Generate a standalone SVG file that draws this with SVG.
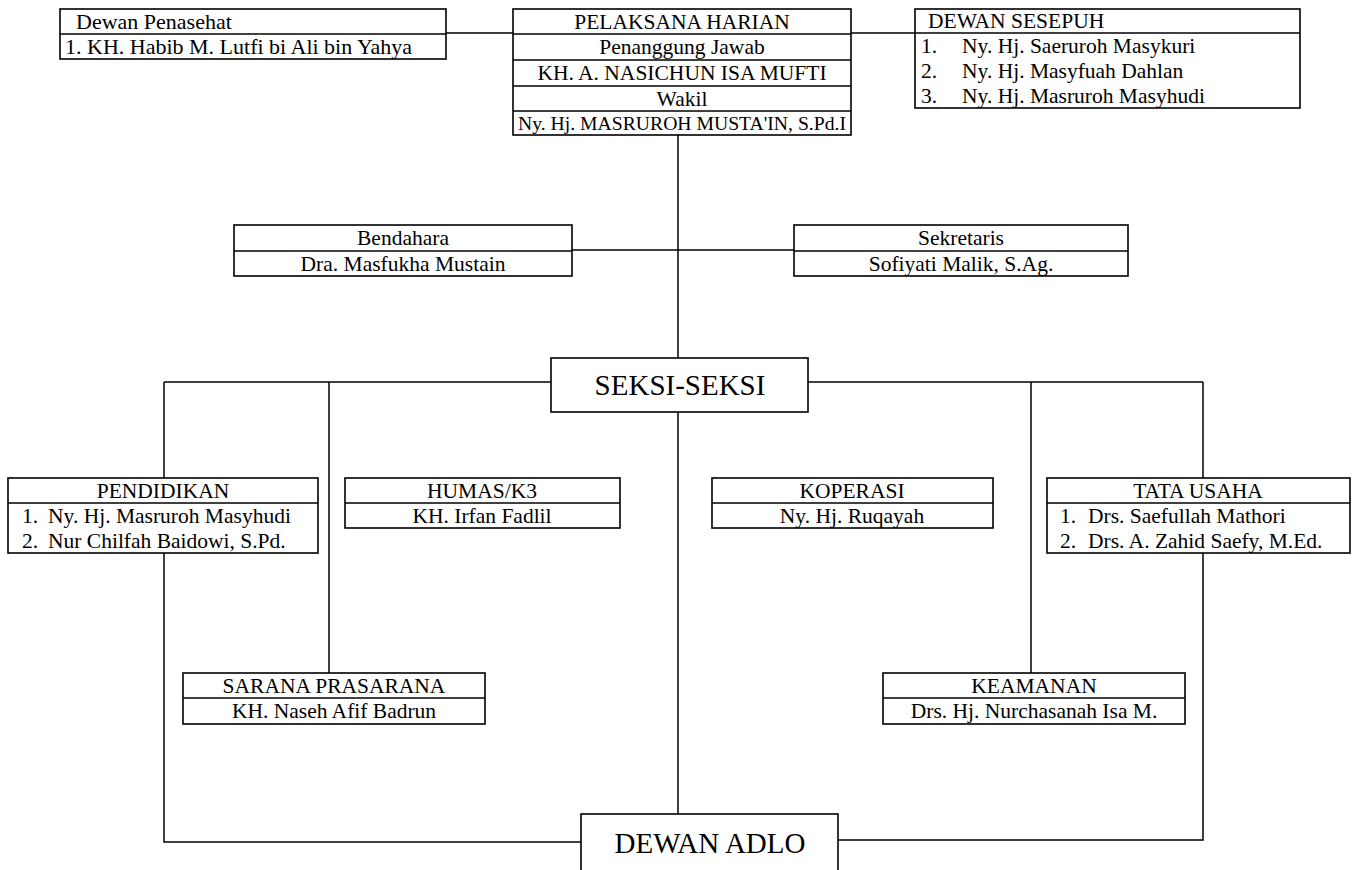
<svg xmlns="http://www.w3.org/2000/svg" width="1360" height="870" viewBox="0 0 1360 870">
<style>
  .box{fill:#fff;stroke:#000;stroke-width:1.6}
  .div{stroke:#000;stroke-width:1.6}
  .ln{stroke:#000;stroke-width:1.5;fill:none}
  text{font-family:"Liberation Serif","Times New Roman",serif;font-size:21.5px;fill:#000}
  .c{text-anchor:middle}
  .big{font-size:29px}
</style>
<rect width="1360" height="870" fill="#fff"/>
<g id="connectors">
  <line class="ln" x1="446" y1="33" x2="513" y2="33"/>
  <line class="ln" x1="851" y1="33" x2="915" y2="33"/>
  <line class="ln" x1="678" y1="135" x2="678" y2="358"/>
  <line class="ln" x1="572" y1="250" x2="794" y2="250"/>
  <line class="ln" x1="164" y1="382" x2="551" y2="382"/>
  <line class="ln" x1="808" y1="382" x2="1203" y2="382"/>
  <line class="ln" x1="164" y1="382" x2="164" y2="478"/>
  <line class="ln" x1="329" y1="382" x2="329" y2="673"/>
  <line class="ln" x1="1031" y1="382" x2="1031" y2="673"/>
  <line class="ln" x1="1203" y1="382" x2="1203" y2="478"/>
  <line class="ln" x1="678" y1="412" x2="678" y2="814"/>
  <polyline class="ln" points="164,553 164,842 581,842"/>
  <polyline class="ln" points="1203,553 1203,840 838,840"/>
</g>
<g id="dewan-penasehat">
  <rect class="box" x="60" y="9" width="386" height="50"/>
  <line class="div" x1="60" y1="34" x2="446" y2="34"/>
  <text x="76" y="29" style="font-size:22px">Dewan Penasehat</text>
  <text x="65" y="54" style="font-size:22px">1. KH. Habib M. Lutfi bi Ali bin Yahya</text>
</g>
<g id="pelaksana-harian">
  <rect class="box" x="513" y="9" width="338" height="126"/>
  <line class="div" x1="513" y1="34" x2="851" y2="34"/>
  <line class="div" x1="513" y1="60" x2="851" y2="60"/>
  <line class="div" x1="513" y1="86" x2="851" y2="86"/>
  <line class="div" x1="513" y1="111" x2="851" y2="111"/>
  <text class="c" x="682" y="29">PELAKSANA HARIAN</text>
  <text class="c" x="682" y="54">Penanggung Jawab</text>
  <text class="c" x="682" y="80">KH. A. NASICHUN ISA MUFTI</text>
  <text class="c" x="682" y="106">Wakil</text>
  <text x="518" y="130" style="font-size:18px" textLength="328" lengthAdjust="spacingAndGlyphs">Ny. Hj.  MASRUROH MUSTA'IN, S.Pd.I</text>
</g>
<g id="dewan-sesepuh">
  <rect class="box" x="915" y="9" width="385" height="99"/>
  <line class="div" x1="915" y1="33" x2="1300" y2="33"/>
  <text x="928" y="28">DEWAN SESEPUH</text>
  <text x="921" y="53">1.</text><text x="962" y="53">Ny. Hj. Saeruroh Masykuri</text>
  <text x="921" y="78">2.</text><text x="962" y="78">Ny. Hj. Masyfuah Dahlan</text>
  <text x="921" y="103">3.</text><text x="962" y="103">Ny. Hj. Masruroh Masyhudi</text>
</g>
<g id="bendahara">
  <rect class="box" x="234" y="225" width="338" height="51"/>
  <line class="div" x1="234" y1="251" x2="572" y2="251"/>
  <text class="c" x="403" y="245">Bendahara</text>
  <text class="c" x="403" y="271">Dra. Masfukha Mustain</text>
</g>
<g id="sekretaris">
  <rect class="box" x="794" y="225" width="334" height="51"/>
  <line class="div" x1="794" y1="251" x2="1128" y2="251"/>
  <text class="c" x="961" y="245">Sekretaris</text>
  <text class="c" x="961" y="271">Sofiyati Malik, S.Ag.</text>
</g>
<g id="seksi-seksi">
  <rect class="box" x="551" y="358" width="257" height="54"/>
  <text class="c big" x="680" y="395">SEKSI-SEKSI</text>
</g>
<g id="pendidikan">
  <rect class="box" x="8" y="478" width="310" height="75"/>
  <line class="div" x1="8" y1="503" x2="318" y2="503"/>
  <text class="c" x="163" y="498">PENDIDIKAN</text>
  <text x="22" y="523">1.</text><text x="48" y="523">Ny. Hj. Masruroh Masyhudi</text>
  <text x="22" y="548">2.</text><text x="48" y="548">Nur Chilfah Baidowi, S.Pd.</text>
</g>
<g id="humas">
  <rect class="box" x="345" y="478" width="275" height="50"/>
  <line class="div" x1="345" y1="503" x2="620" y2="503"/>
  <text class="c" x="482" y="498">HUMAS/K3</text>
  <text class="c" x="482" y="523">KH. Irfan Fadlil</text>
</g>
<g id="koperasi">
  <rect class="box" x="712" y="478" width="281" height="50"/>
  <line class="div" x1="712" y1="503" x2="993" y2="503"/>
  <text class="c" x="852" y="498">KOPERASI</text>
  <text class="c" x="852" y="523">Ny. Hj. Ruqayah</text>
</g>
<g id="tata-usaha">
  <rect class="box" x="1047" y="478" width="303" height="75"/>
  <line class="div" x1="1047" y1="503" x2="1350" y2="503"/>
  <text class="c" x="1198" y="498">TATA USAHA</text>
  <text x="1060" y="523">1.</text><text x="1088" y="523">Drs. Saefullah Mathori</text>
  <text x="1060" y="548">2.</text><text x="1088" y="548">Drs. A. Zahid Saefy, M.Ed.</text>
</g>
<g id="sarana-prasarana">
  <rect class="box" x="183" y="673" width="302" height="51"/>
  <line class="div" x1="183" y1="698" x2="485" y2="698"/>
  <text class="c" x="334" y="693">SARANA PRASARANA</text>
  <text class="c" x="334" y="718">KH. Naseh Afif Badrun</text>
</g>
<g id="keamanan">
  <rect class="box" x="883" y="673" width="302" height="51"/>
  <line class="div" x1="883" y1="698" x2="1185" y2="698"/>
  <text class="c" x="1034" y="693">KEAMANAN</text>
  <text class="c" x="1034" y="718">Drs. Hj. Nurchasanah Isa M.</text>
</g>
<g id="dewan-adlo">
  <rect class="box" x="581" y="814" width="257" height="70"/>
  <text class="c big" x="710" y="853">DEWAN ADLO</text>
</g>
</svg>
